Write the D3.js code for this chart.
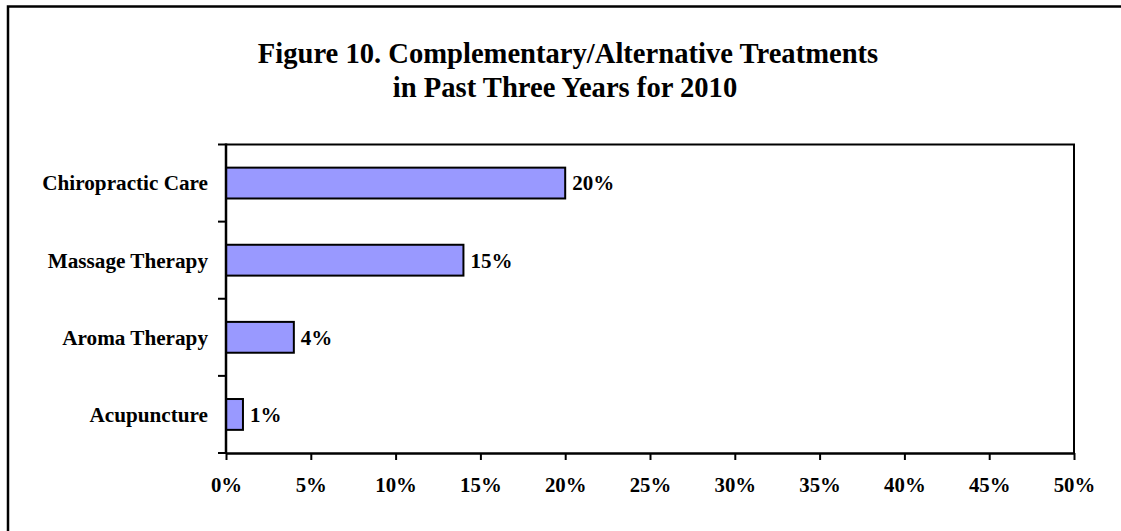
<!DOCTYPE html>
<html>
<head>
<meta charset="utf-8">
<script src="https://cdn.jsdelivr.net/npm/d3@7"></script>
<style>
  html, body { margin: 0; padding: 0; background: #fff; }
  svg { display: block; }
  text { font-family: "Liberation Serif", "Times New Roman", serif; font-weight: bold; fill: #000; }
</style>
</head>
<body>
<svg id="chart" width="1121" height="531"></svg>
<script>
const titleLines = ["Figure 10. Complementary/Alternative Treatments", "in Past Three Years for 2010"];
const categories = ["Chiropractic Care", "Massage Therapy", "Aroma Therapy", "Acupuncture"];
const values = [20, 14, 4, 1];
const valueLabels = ["20%", "15%", "4%", "1%"];
const xTicks = [0, 5, 10, 15, 20, 25, 30, 35, 40, 45, 50];

const svg = d3.select("#chart");
const W = 1121, H = 531;
const m = { left: 226, right: 1074, top: 144.5, bottom: 453 };

// outer frame (right and bottom edges fall outside the picture)
svg.append("path")
  .attr("d", `M8,${H + 5} L8,6.5 L${W + 5},6.5`)
  .attr("fill", "none").attr("stroke", "#000").attr("stroke-width", 2.5);

// title
svg.append("text")
  .attr("x", 568).attr("y", 63)
  .attr("text-anchor", "middle")
  .style("font-size", "28.6px")
  .text(titleLines[0]);
svg.append("text")
  .attr("x", 565).attr("y", 96.5)
  .attr("text-anchor", "middle")
  .style("font-size", "28.6px")
  .text(titleLines[1]);

const x = d3.scaleLinear().domain([0, 50]).range([m.left, m.right]);
const y = d3.scaleBand().domain(categories).range([m.top, m.bottom]).paddingInner(0.6).paddingOuter(0.3);

// plot frame (top, right)
svg.append("path")
  .attr("d", `M${m.left},${m.top} L${m.right},${m.top} L${m.right},${m.bottom}`)
  .attr("fill", "none").attr("stroke", "#000").attr("stroke-width", 2);

// bars
svg.append("g").selectAll("rect")
  .data(categories)
  .join("rect")
  .attr("x", x(0))
  .attr("y", (d) => y(d))
  .attr("width", (d, i) => x(values[i]) - x(0))
  .attr("height", y.bandwidth())
  .attr("fill", "#9999FF")
  .attr("stroke", "#000")
  .attr("stroke-width", 2);

// value labels
svg.append("g").selectAll("text")
  .data(categories)
  .join("text")
  .attr("x", (d, i) => x(values[i]) + 7)
  .attr("y", (d) => y(d) + y.bandwidth() / 2)
  .attr("dy", "0.35em")
  .style("font-size", "21px")
  .text((d, i) => valueLabels[i]);

// y axis: ticks at band boundaries
const yAxisG = svg.append("g");
yAxisG.append("line")
  .attr("x1", m.left).attr("x2", m.left)
  .attr("y1", m.top - 1).attr("y2", m.bottom + 1)
  .attr("stroke", "#000").attr("stroke-width", 2.5);
const step = (m.bottom - m.top) / categories.length;
yAxisG.selectAll("line.tick")
  .data(d3.range(categories.length + 1))
  .join("line")
  .attr("class", "tick")
  .attr("x1", m.left - 8).attr("x2", m.left)
  .attr("y1", (i) => m.top + i * step).attr("y2", (i) => m.top + i * step)
  .attr("stroke", "#000").attr("stroke-width", 2);
yAxisG.selectAll("text")
  .data(categories)
  .join("text")
  .attr("x", 208)
  .attr("y", (d) => y(d) + y.bandwidth() / 2)
  .attr("dy", "0.35em")
  .attr("text-anchor", "end")
  .style("font-size", "21.2px")
  .text((d) => d);

// x axis
const xAxis = d3.axisBottom(x)
  .tickValues(xTicks)
  .tickFormat((d) => d + "%")
  .tickSizeInner(7)
  .tickSizeOuter(0)
  .tickPadding(17);
const xg = svg.append("g")
  .attr("transform", `translate(0,${m.bottom})`)
  .call(xAxis);
xg.select(".domain").attr("stroke", "#000").attr("stroke-width", 2.5);
xg.selectAll(".tick line").attr("stroke", "#000").attr("stroke-width", 2);
xg.selectAll(".tick text")
  .style("font-family", "'Liberation Serif', 'Times New Roman', serif")
  .style("font-weight", "bold")
  .style("font-size", "20.8px")
  .attr("fill", "#000");
</script>
</body>
</html>
